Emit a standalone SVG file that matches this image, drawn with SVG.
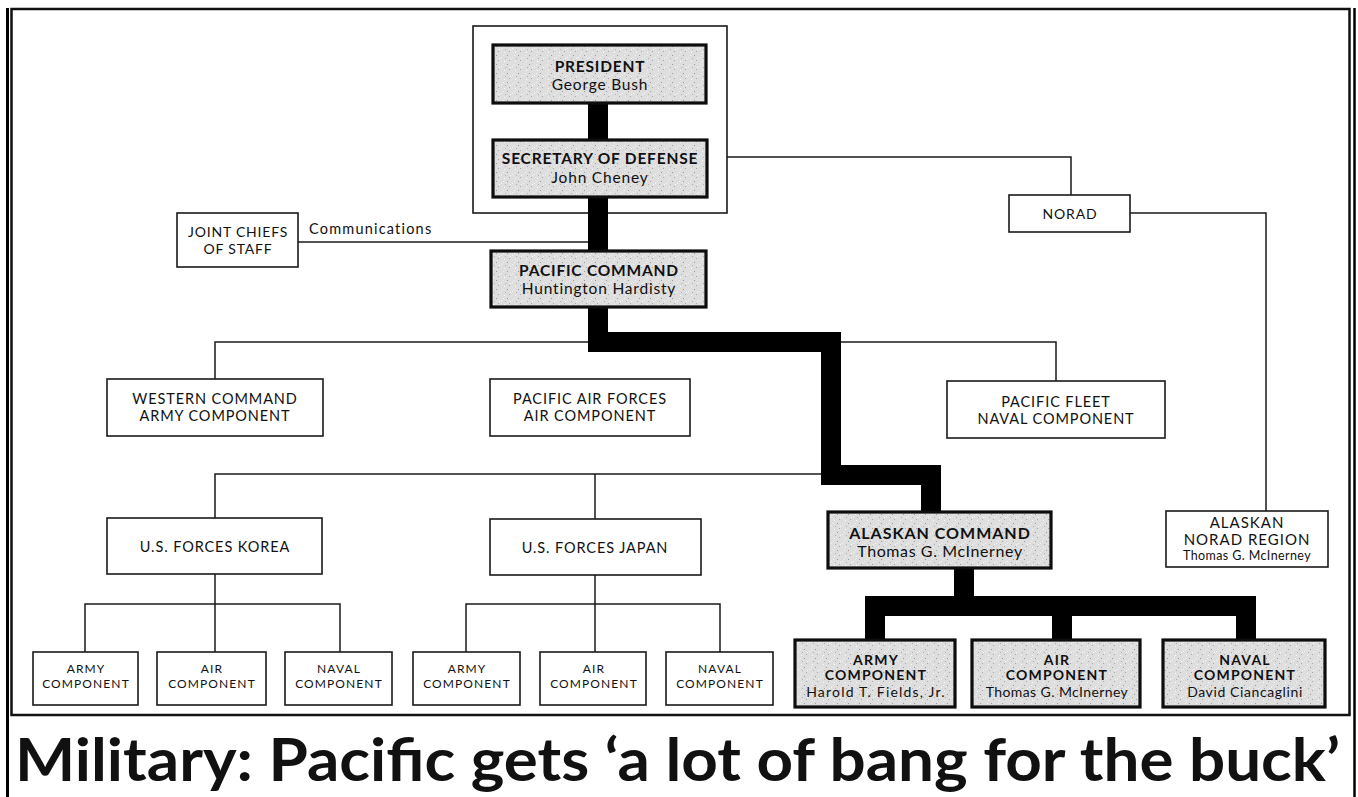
<svg xmlns="http://www.w3.org/2000/svg" width="1358" height="797" viewBox="0 0 1358 797">
<style>
text{font-family:Lato,"Open Sans","Liberation Sans",sans-serif;fill:#111;text-anchor:middle}
.b{font-weight:bold}
.box{fill:#fff;stroke:#1a1a1a;stroke-width:1.6}
.gbox{fill:url(#speck);stroke:#0d0d0d;stroke-width:3.2}
.thin{fill:none;stroke:#1a1a1a;stroke-width:1.5}
.thick{fill:none;stroke:#000;stroke-width:20;stroke-linejoin:miter}
.g1{font-size:15.5px;letter-spacing:0.8px}
.t13{font-size:14.5px;letter-spacing:0.9px}
.t12{font-size:14px;letter-spacing:0.8px}
.t10{font-size:12px;letter-spacing:1.1px}
.a1{font-size:14px;letter-spacing:1.2px}
</style>
<defs>
<pattern id="speck" width="11" height="9" patternUnits="userSpaceOnUse">
<rect width="11" height="9" fill="#dedede"/>
<rect x="1" y="1" width="1" height="1" fill="#9a9a9a"/>
<rect x="6" y="3" width="1" height="1" fill="#f4f4f4"/>
<rect x="3" y="6" width="1" height="1" fill="#a8a8a8"/>
<rect x="9" y="7" width="1" height="1" fill="#fafafa"/>
<rect x="8" y="1" width="1" height="1" fill="#f0f0f0"/>
<rect x="4" y="4" width="1" height="1" fill="#f8f8f8"/>
<rect x="10" y="4" width="1" height="1" fill="#b0b0b0"/>
</pattern>
</defs>
<rect width="1358" height="797" fill="#fff"/>
<line x1="7.5" y1="8" x2="7.5" y2="797" stroke="#000" stroke-width="3"/>
<line x1="1354.5" y1="8" x2="1354.5" y2="797" stroke="#000" stroke-width="2.5"/>
<rect x="11.5" y="9" width="1338" height="706" fill="none" stroke="#111" stroke-width="2.5"/>
<rect x="473" y="26" width="254" height="187" fill="none" stroke="#1a1a1a" stroke-width="1.6"/>

<g id="connectors">
<polyline class="thin" points="727,157 1071,157 1071,195"/>
<polyline class="thin" points="1130,213 1266,213 1266,511"/>
<line class="thin" x1="298" y1="242" x2="590" y2="242"/>
<polyline class="thin" points="215,379 215,342 1056,342 1056,381"/>
<polyline class="thin" points="215,518 215,474 830,474"/>
<line class="thin" x1="595" y1="474" x2="595" y2="519"/>
<polyline class="thin" points="85,652 85,604 340,604 340,652"/>
<line class="thin" x1="215" y1="574" x2="215" y2="652"/>
<polyline class="thin" points="466,652 466,604 720,604 720,652"/>
<line class="thin" x1="595" y1="575" x2="595" y2="652"/>
<line class="thick" x1="598" y1="104" x2="598" y2="140"/>
<line class="thick" x1="598" y1="197" x2="598" y2="251"/>
<polyline class="thick" points="598,307 598,342 831,342 831,475 931,475 931,512"/>
<line class="thick" x1="964" y1="568" x2="964" y2="606"/>
<polyline class="thick" points="875,640 875,606 1246,606 1246,640"/>
<line class="thick" x1="1062" y1="606" x2="1062" y2="640"/>
</g>

<g id="president">
<rect class="gbox" x="493" y="45" width="213" height="58"/>
<text class="b g1" x="600" y="72">PRESIDENT</text>
<text class="g1" x="600" y="90">George Bush</text>
</g>
<g id="secdef">
<rect class="gbox" x="493" y="140" width="214" height="57"/>
<text class="b g1" x="600" y="164">SECRETARY OF DEFENSE</text>
<text class="g1" x="600" y="183">John Cheney</text>
</g>
<g id="jcs">
<rect class="box" x="177" y="213" width="121" height="54"/>
<text class="t12" x="238" y="237">JOINT CHIEFS</text>
<text class="t12" x="238" y="254">OF STAFF</text>
</g>
<g id="comm-label">
<text x="309" y="234" style="text-anchor:start;font-size:14.5px;letter-spacing:1.2px">Communications</text>
</g>
<g id="pacom">
<rect class="gbox" x="491" y="251" width="215" height="56"/>
<text class="b g1" x="599" y="276">PACIFIC COMMAND</text>
<text class="g1" x="599" y="294">Huntington Hardisty</text>
</g>
<g id="norad">
<rect class="box" x="1009" y="195" width="121" height="37"/>
<text class="t12" x="1070" y="219">NORAD</text>
</g>
<g id="alaskan-norad">
<rect class="box" x="1166" y="511" width="162" height="56"/>
<text x="1247" y="528" style="font-size:15px;letter-spacing:1px">ALASKAN</text>
<text x="1247" y="545" style="font-size:15px;letter-spacing:1px">NORAD REGION</text>
<text x="1247" y="560" style="font-size:12.5px;letter-spacing:0.4px">Thomas G. McInerney</text>
</g>
<g id="westcom">
<rect class="box" x="107" y="379" width="216" height="57"/>
<text class="t13" x="215" y="404">WESTERN COMMAND</text>
<text class="t13" x="215" y="421">ARMY COMPONENT</text>
</g>
<g id="pacaf">
<rect class="box" x="490" y="379" width="200" height="57"/>
<text class="t13" x="590" y="404">PACIFIC AIR FORCES</text>
<text class="t13" x="590" y="421">AIR COMPONENT</text>
</g>
<g id="pacflt">
<rect class="box" x="947" y="381" width="218" height="57"/>
<text class="t13" x="1056" y="407">PACIFIC FLEET</text>
<text class="t13" x="1056" y="424">NAVAL COMPONENT</text>
</g>
<g id="usfk">
<rect class="box" x="107" y="518" width="215" height="56"/>
<text class="t13" x="215" y="552">U.S. FORCES KOREA</text>
</g>
<g id="usfj">
<rect class="box" x="490" y="519" width="211" height="56"/>
<text class="t13" x="595" y="553">U.S. FORCES JAPAN</text>
</g>
<g id="alcom">
<rect class="gbox" x="828" y="512" width="223" height="56"/>
<text class="b" x="940" y="539" style="font-size:16px;letter-spacing:1px">ALASKAN COMMAND</text>
<text x="940" y="557" style="font-size:16px;letter-spacing:0.6px">Thomas G. McInerney</text>
</g>
<g id="k-army">
<rect class="box" x="33" y="652" width="105" height="53"/>
<text class="t10" x="86" y="673">ARMY</text>
<text class="t10" x="86" y="688">COMPONENT</text>
</g>
<g id="k-air">
<rect class="box" x="157" y="652" width="109" height="53"/>
<text class="t10" x="212" y="673">AIR</text>
<text class="t10" x="212" y="688">COMPONENT</text>
</g>
<g id="k-naval">
<rect class="box" x="285" y="652" width="107" height="53"/>
<text class="t10" x="339" y="673">NAVAL</text>
<text class="t10" x="339" y="688">COMPONENT</text>
</g>
<g id="j-army">
<rect class="box" x="413" y="652" width="107" height="53"/>
<text class="t10" x="467" y="673">ARMY</text>
<text class="t10" x="467" y="688">COMPONENT</text>
</g>
<g id="j-air">
<rect class="box" x="540" y="652" width="106" height="53"/>
<text class="t10" x="594" y="673">AIR</text>
<text class="t10" x="594" y="688">COMPONENT</text>
</g>
<g id="j-naval">
<rect class="box" x="666" y="652" width="107" height="53"/>
<text class="t10" x="720" y="673">NAVAL</text>
<text class="t10" x="720" y="688">COMPONENT</text>
</g>
<g id="a-army">
<rect class="gbox" x="795" y="640" width="160" height="67"/>
<text class="b a1" x="876" y="665">ARMY</text>
<text class="b a1" x="876" y="680">COMPONENT</text>
<text class="a1" x="876" y="697">Harold T. Fields, Jr.</text>
</g>
<g id="a-air">
<rect class="gbox" x="972" y="640" width="168" height="67"/>
<text class="b a1" x="1057" y="665">AIR</text>
<text class="b a1" x="1057" y="680">COMPONENT</text>
<text class="a1" x="1057" y="697" style="letter-spacing:0.4px">Thomas G. McInerney</text>
</g>
<g id="a-naval">
<rect class="gbox" x="1163" y="640" width="162" height="67"/>
<text class="b a1" x="1245" y="665">NAVAL</text>
<text class="b a1" x="1245" y="680">COMPONENT</text>
<text class="a1" x="1245" y="697" style="letter-spacing:0.6px">David Ciancaglini</text>
</g>
<text x="15" y="781" font-size="60" font-weight="bold" style="text-anchor:start" textLength="1325" lengthAdjust="spacingAndGlyphs">Military: Pacific gets ‘a lot of bang for the buck’</text>
</svg>
